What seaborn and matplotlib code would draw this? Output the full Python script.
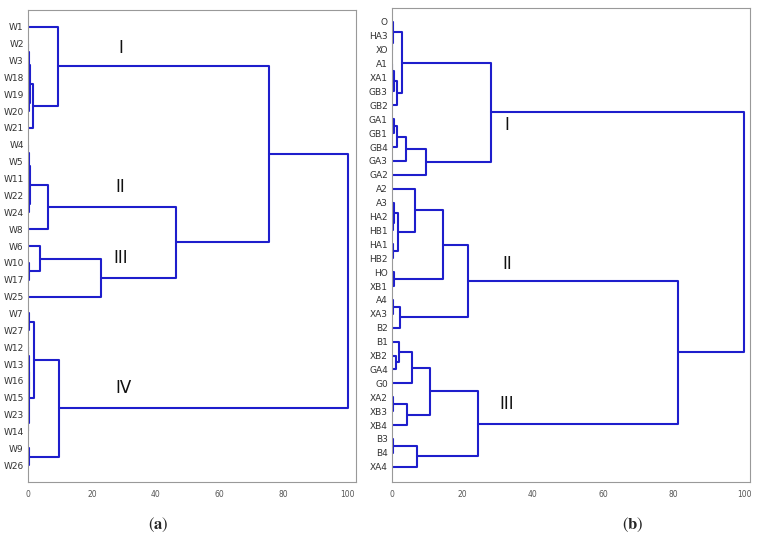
import matplotlib
matplotlib.use("Agg")
import matplotlib.pyplot as plt
import pandas as pd
import seaborn as sns

# leaf order, top to bottom
LEAVES_A = ["W1", "W2", "W3", "W18", "W19", "W20", "W21", "W4", "W5", "W11",
            "W22", "W24", "W8", "W6", "W10", "W17", "W25", "W7", "W27", "W12",
            "W13", "W16", "W15", "W23", "W14", "W9", "W26"]
LEAVES_B = ["O", "HA3", "XO", "A1", "XA1", "GB3", "GB2", "GA1", "GB1", "GB4",
            "GA3", "GA2", "A2", "A3", "HA2", "HB1", "HA1", "HB2", "HO", "XB1",
            "A4", "XA3", "B2", "B1", "XB2", "GA4", "G0", "XA2", "XB3", "XB4",
            "B3", "B4", "XA4"]

# merges: (child1, child2, distance, new node name)
MERGES_A = [
    ("W2", "W3", 0.1, "a1"), ("W19", "W20", 0.3, "a2"), ("a1", "W18", 0.4, "a3"),
    ("a3", "a2", 0.6, "a4"), ("a4", "W21", 1.7, "a5"), ("W1", "a5", 9.4, "I"),
    ("W4", "W5", 0.1, "b1"), ("b1", "W11", 0.2, "b2"), ("W22", "W24", 0.3, "b3"),
    ("b2", "b3", 0.5, "b4"), ("b4", "W8", 6.3, "II"),
    ("W10", "W17", 0.3, "c1"), ("W6", "c1", 3.9, "c2"), ("c2", "W25", 22.9, "III"),
    ("II", "III", 46.2, "d1"), ("I", "d1", 75.3, "e1"),
    ("W7", "W27", 0.2, "f1"), ("W12", "W13", 0.1, "f2"), ("W16", "W15", 0.1, "f3"),
    ("f2", "f3", 0.2, "f4"), ("W23", "W14", 0.1, "f5"), ("f4", "f5", 0.3, "f6"),
    ("f1", "f6", 2.0, "f7"), ("W9", "W26", 0.3, "f8"), ("f7", "f8", 9.7, "IV"),
    ("e1", "IV", 100.0, "root"),
]
MERGES_B = [
    ("HA3", "XO", 0.05, "g1"), ("O", "g1", 0.2, "g2"), ("A1", "XA1", 0.1, "g3"),
    ("g3", "GB3", 0.6, "g4"), ("g4", "GB2", 1.3, "g5"), ("g2", "g5", 2.9, "g6"),
    ("GA1", "GB1", 0.5, "h1"), ("h1", "GB4", 1.3, "h2"), ("h2", "GA3", 4.0, "h3"),
    ("h3", "GA2", 9.7, "h4"), ("g6", "h4", 28.0, "I"),
    ("HA2", "HB1", 0.2, "i1"), ("A3", "i1", 0.6, "i2"), ("HA1", "HB2", 0.3, "i3"),
    ("i2", "i3", 1.8, "i4"), ("A2", "i4", 6.5, "i5"), ("HO", "XB1", 0.6, "i6"),
    ("i5", "i6", 14.4, "i7"), ("A4", "XA3", 0.3, "i8"), ("i8", "B2", 2.3, "i9"),
    ("i7", "i9", 21.7, "II"),
    ("XB2", "GA4", 1.1, "j1"), ("B1", "j1", 2.1, "j2"), ("j2", "G0", 5.6, "j3"),
    ("XA2", "XB3", 0.2, "j4"), ("j4", "XB4", 4.2, "j5"), ("j3", "j5", 10.8, "j6"),
    ("B3", "B4", 0.3, "j7"), ("j7", "XA4", 7.0, "j8"), ("j6", "j8", 24.3, "III"),
    ("II", "III", 81.2, "k1"), ("I", "k1", 100.0, "root"),
]

# cluster labels: (text, distance position, leaf position)
GROUPS_A = [("I", 29, 2.25), ("II", 29, 10.5), ("III", 29, 14.7), ("IV", 30, 22.4)]
GROUPS_B = [("I", 32.7, 8.4), ("II", 32.7, 18.4), ("III", 32.7, 28.5)]

BLUE = "#1e1ecc"


def links_frame(leaves, merges):
    pos = {name: (0.0, i + 1.0) for i, name in enumerate(leaves)}
    rows = []
    for k, (c1, c2, h, name) in enumerate(merges):
        x1, y1 = pos[c1]
        x2, y2 = pos[c2]
        for x, y in [(x1, y1), (h, y1), (h, y2), (x2, y2)]:
            rows.append({"link": k, "x": x, "y": y})
        pos[name] = (h, (y1 + y2) / 2)
    return pd.DataFrame(rows)


def draw(ax, leaves, merges, groups, xmax, ymax):
    df = links_frame(leaves, merges)
    sns.lineplot(data=df, x="x", y="y", units="link", estimator=None,
                 sort=False, color=BLUE, lw=1.5, ax=ax, legend=False)
    ax.set_xlim(0, xmax)
    ax.set_ylim(ymax, 0)
    ax.set_xticks(range(0, 101, 20))
    ax.set_yticks(range(1, len(leaves) + 1))
    ax.set_yticklabels(leaves, fontsize=6.5, color="#333333")
    ax.tick_params(axis="x", labelsize=5.5, colors="#555555", length=2, width=0.5)
    ax.tick_params(axis="y", length=0, pad=3)
    ax.set_xlabel("")
    ax.set_ylabel("")
    for s in ax.spines.values():
        s.set_color("#999999")
        s.set_linewidth(0.8)
    for text, x, y in groups:
        ax.text(x, y, text, fontsize=12, ha="center", va="center", color="#111111")


sns.set_theme(style="white")
plt.rcParams["font.family"] = ["DejaVu Sans"]
plt.rcParams["mathtext.fontset"] = "stix"

fig = plt.figure(figsize=(7.58, 5.46), dpi=100)
ax_a = fig.add_axes([0.0369, 0.1172, 0.4327, 0.8645])
ax_b = fig.add_axes([0.5172, 0.1172, 0.4723, 0.8681])

draw(ax_a, LEAVES_A, MERGES_A, GROUPS_A, 102.6, 28.0)
draw(ax_b, LEAVES_B, MERGES_B, GROUPS_B, 101.7, 34.1)

fig.text(158 / 758, 1 - 525 / 546, r"$(\mathbf{a})$", fontsize=12, ha="center", va="center")
fig.text(633 / 758, 1 - 525 / 546, r"$(\mathbf{b})$", fontsize=12, ha="center", va="center")

fig.savefig("out.png", dpi=100)
